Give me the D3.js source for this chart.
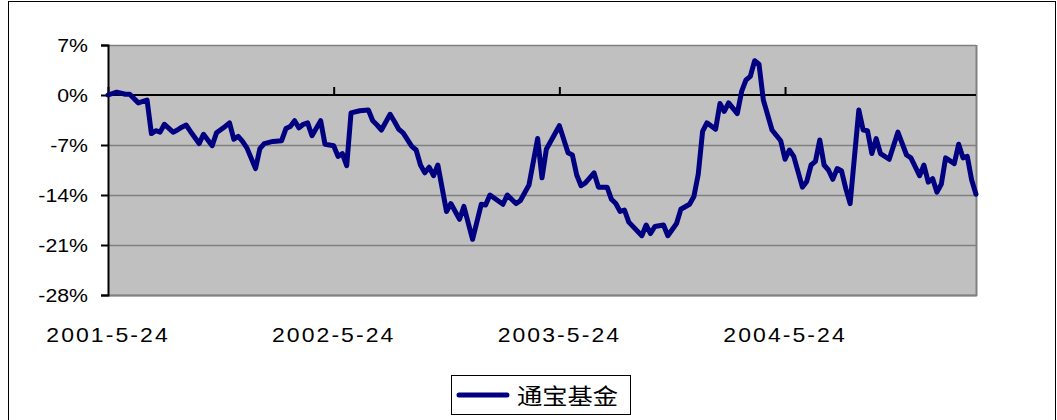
<!DOCTYPE html>
<html>
<head>
<meta charset="utf-8">
<script src="https://cdn.jsdelivr.net/npm/d3@7"></script>
<style>
html,body{margin:0;padding:0;background:#fff;}
svg{display:block;}
</style>
</head>
<body>
<svg id="chart" width="1057" height="420"></svg>
<script>
// ---- data ----
const seriesName = "通宝基金";
// week offsets from 2001-5-24
const weeks = [0,2,4,5,7,9,10,11,12,13,15,16,17,18,19,21,22,24,25,27,28,29,30,31,32,34,35,36,38,40,41,42,43,44,45,46,47,49,50,52,53,54,55,56,58,60,61,62,63,65,66,67,68,70,71,72,73,74,75,76,78,79,81,82,84,86,87,88,91,92,94,95,97,99,100,101,104,106,107,108,109,110,112,113,115,116,117,118,119,120,123,124,125,126,128,129,131,132,134,135,136,137,138,140,141,142,143,145,146,147,148,149,150,151,153,155,156,157,158,160,161,162,163,164,165,166,167,168,169,170,171,173,174,175,176,177,178,180,182,184,185,187,188,189,190,191,192,193,195,196,197,198,199,200];
// cumulative return, %
const values = [0,0.4,0.1,0.1,-1.1,-0.7,-5.4,-5.0,-5.2,-4.1,-5.2,-4.9,-4.5,-4.2,-5.1,-6.8,-5.5,-7.1,-5.3,-4.4,-3.9,-6.2,-5.8,-6.5,-7.4,-10.3,-7.5,-6.8,-6.5,-6.4,-4.7,-4.4,-3.6,-4.6,-4.1,-3.9,-5.7,-3.6,-6.9,-7.1,-8.6,-8.2,-9.9,-2.5,-2.2,-2.1,-3.6,-4.2,-4.9,-2.7,-3.7,-4.8,-5.3,-7.2,-7.7,-9.8,-10.9,-10.1,-11.3,-9.8,-16.3,-15.2,-17.4,-15.6,-20.2,-15.3,-15.4,-14.0,-15.3,-14.0,-15.2,-14.8,-12.6,-6.1,-11.6,-7.6,-4.3,-8.1,-8.4,-11.2,-12.7,-12.3,-10.9,-12.9,-12.9,-14.6,-15.2,-16.3,-16.1,-17.8,-19.7,-18.2,-19.4,-18.4,-18.2,-19.7,-18.0,-16.0,-15.3,-14.2,-11.1,-5.1,-3.9,-4.8,-1.2,-2.3,-1.1,-2.6,0.5,2.1,2.6,4.8,4.3,-0.7,-4.9,-6.4,-9.0,-7.7,-8.6,-12.9,-12.1,-9.8,-9.3,-6.3,-9.8,-10.5,-11.8,-10.3,-10.6,-13.1,-15.2,-2.1,-4.9,-5.0,-8.2,-6.1,-8.2,-9.0,-5.2,-8.4,-8.8,-11.3,-9.8,-12.2,-11.7,-13.6,-12.5,-8.8,-9.6,-6.9,-8.8,-8.6,-11.9,-13.9];
const xTickWeeks = [0,52,104,156];
const xTickLabels = ["2001-5-24","2002-5-24","2003-5-24","2004-5-24"];
const yTicks = [7,0,-7,-14,-21,-28];
const yTickLabels = ["7%","0%","-7%","-14%","-21%","-28%"];

// ---- layout ----
const svg = d3.select("#chart");
const L = 108, R = 976, T = 45, B = 295;
const x = d3.scaleLinear().domain([0,200]).range([L,R]);
const y = d3.scaleLinear().domain([-28,7]).range([B,T]);
const FONT = "Arial, 'Liberation Sans', sans-serif";
const SX = 1.15;

// outer frame
svg.append("rect").attr("x",8.5).attr("y",1.5).attr("width",1047).attr("height",430)
  .attr("fill","none").attr("stroke","#000").attr("stroke-width",1);

// plot background
svg.append("rect").attr("x",L).attr("y",T).attr("width",R-L).attr("height",B-T)
  .attr("fill","#C0C0C0");

// gridlines
svg.append("g").selectAll("line").data(yTicks.filter(d=>d!==0)).join("line")
  .attr("x1",L).attr("x2",R).attr("y1",d=>Math.round(y(d))+0.5).attr("y2",d=>Math.round(y(d))+0.5)
  .attr("stroke","#808080").attr("stroke-width",1.5);
// right/bottom border
svg.append("line").attr("x1",R+0.5).attr("x2",R+0.5).attr("y1",T).attr("y2",B+1)
  .attr("stroke","#808080").attr("stroke-width",2);
svg.append("line").attr("x1",L).attr("x2",R+1).attr("y1",B+0.5).attr("y2",B+0.5)
  .attr("stroke","#808080").attr("stroke-width",2);

// y axis
const yAxis = d3.axisLeft(y).tickValues(yTicks).tickSize(7).tickFormat("");
const yg = svg.append("g").attr("transform",`translate(${L},0)`).call(yAxis);
yg.select(".domain").attr("stroke","#000").attr("stroke-width",2);
yg.selectAll(".tick line").attr("stroke","#000").attr("stroke-width",2);
svg.append("g").selectAll("g").data(yTicks).join("g")
  .attr("transform",(d)=>`translate(88,${y(d)+6.5}) scale(${SX},1)`)
  .append("text").attr("text-anchor","end")
  .attr("font-family",FONT).attr("font-size",18.5).attr("fill","#000")
  .text((d,i)=>yTickLabels[i]);

// zero axis with ticks
const xAxis = d3.axisTop(x).tickValues(xTickWeeks).tickSize(8).tickFormat("");
const xg = svg.append("g").attr("transform",`translate(0,${y(0)})`).call(xAxis);
xg.select(".domain").attr("stroke","#000").attr("stroke-width",2).attr("d",`M${L},0H${R}`);
xg.selectAll(".tick line").attr("stroke","#000").attr("stroke-width",2);

// x labels
svg.append("g").selectAll("g").data(xTickWeeks).join("g")
  .attr("transform",d=>`translate(${x(d)},342) scale(${SX},1)`)
  .append("text").attr("text-anchor","middle")
  .attr("font-family",FONT).attr("font-size",20).attr("letter-spacing",1.8).attr("fill","#000")
  .text((d,i)=>xTickLabels[i]);

// line
const line = d3.line().x((d,i)=>x(weeks[i])).y(d=>y(d));
svg.append("path").datum(values).attr("d",line)
  .attr("fill","none").attr("stroke","#000080").attr("stroke-width",5)
  .attr("stroke-linejoin","round").attr("stroke-linecap","round");

// legend
const lg = svg.append("g");
lg.append("rect").attr("x",451.5).attr("y",375.5).attr("width",179).attr("height",39)
  .attr("fill","#fff").attr("stroke","#000").attr("stroke-width",1);
lg.append("line").attr("x1",459).attr("x2",507).attr("y1",395).attr("y2",395)
  .attr("stroke","#000080").attr("stroke-width",5).attr("stroke-linecap","round");
lg.append("g").attr("transform",`translate(517,404) scale(${SX},1)`)
  .append("text").attr("font-family","'Noto Sans CJK SC', sans-serif").attr("font-size",22).attr("fill","#000")
  .text(seriesName);
</script>
</body>
</html>
